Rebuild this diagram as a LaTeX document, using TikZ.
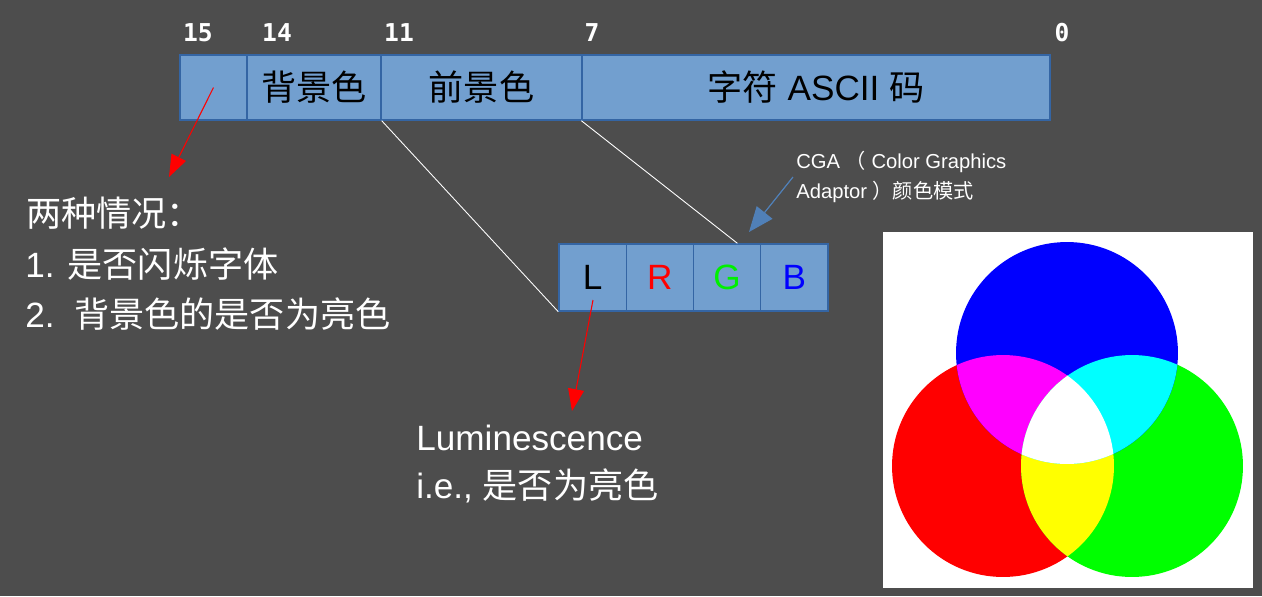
\documentclass[tikz,border=0pt]{standalone}
\usepackage{fontspec}
\setmainfont{Liberation Sans}
\newfontfamily\cjk{Noto Sans CJK SC}
\newfontfamily\monofnt{DejaVu Sans Mono}
\usetikzlibrary{arrows.meta,calc}
\definecolor{bgc}{HTML}{4D4D4D}
\definecolor{cellfill}{HTML}{729FCF}
\definecolor{cellline}{HTML}{3465A4}
\definecolor{arrblue}{HTML}{5080B8}
\definecolor{lgreen}{HTML}{00F000}
\definecolor{pred}{HTML}{FF0000}
\definecolor{pgreen}{HTML}{00FF00}
\definecolor{pblue}{HTML}{0000FF}
\definecolor{pmagenta}{HTML}{FF00FF}
\definecolor{pcyan}{HTML}{00FFFF}
\definecolor{pyellow}{HTML}{FFFF00}
\tikzset{
  cell/.style={draw=cellline, fill=cellfill, line width=0.8pt, inner sep=0pt,
    minimum height=#1, font=\fontsize{20}{24}\selectfont, text=black},
  bitnum/.style={text=white, font=\monofnt\bfseries\fontsize{14}{16}\selectfont, inner sep=0pt},
  bigtxt/.style={text=white, font=\fontsize{20}{24}\selectfont, inner sep=0pt, anchor=base west},
  smalltxt/.style={text=white, font=\fontsize{11.5}{14}\selectfont, inner sep=0pt, anchor=base west},
  redarrow/.style={draw=pred, line width=0.6pt, -{Triangle[length=0.44cm,width=0.32cm]}},
  bluearrow/.style={draw=arrblue, line width=0.7pt, -{Triangle[length=0.5cm,width=0.4cm]}},
  thinwhite/.style={draw=white, line width=0.5pt}
}
\begin{document}
\begin{tikzpicture}[x=0.02cm,y=-0.02cm]
\useasboundingbox (0,0) rectangle (1262,596);
\fill[bgc] (0,0) rectangle (1262,596);

% bit numbers
\node[bitnum] (n15) at (198,33) {15};
\node[bitnum] (n14) at (277,33) {14};
\node[bitnum] (n11) at (399,33) {11};
\node[bitnum] (n7) at (592,33) {7};
\node[bitnum] (n0) at (1062,33) {0};

% top bar
\node[cell=1.3cm, minimum width=1.34cm] (c15) at (213.5,87.5) {};
\node[cell=1.3cm, minimum width=2.68cm] (c14) at (314,87.5) {\cjk 背景色};
\node[cell=1.3cm, minimum width=4.02cm] (c11) at (481.5,87.5) {\cjk 前景色};
\node[cell=1.3cm, minimum width=9.36cm] (c7) at (816,87.5) {{\cjk 字符} ASCII {\cjk 码}};

% LRGB
\node[cell=1.34cm, minimum width=1.345cm] (L) at (592.6,277.5) {L};
\node[cell=1.34cm, minimum width=1.345cm, text=pred] (R) at (659.9,277.5) {R};
\node[cell=1.34cm, minimum width=1.345cm, text=lgreen] (G) at (727.1,277.5) {G};
\node[cell=1.34cm, minimum width=1.345cm, text=pblue] (B) at (794.4,277.5) {B};

% white connector lines
\draw[thinwhite] (c14.south east) -- (L.south west);
\draw[thinwhite] (c7.south west) -- ($(G.north west)!0.65!(G.north east)$);

% left text
\node[bigtxt] (case0) at (26,226) {{\cjk 两种情况：}};
\node[bigtxt] (case1) at (25,277) {1. {\cjk 是否闪烁字体}};
\node[bigtxt] (case2) at (25,327) {2.\ \ {\cjk 背景色的是否为亮色}};

% luminescence text
\node[bigtxt] (lum1) at (416,450) {Luminescence};
\node[bigtxt] (lum2) at (416,498) {i.e., {\cjk 是否为亮色}};

% CGA text
\node[smalltxt] (cga1) at (796,168) {CGA {\cjk （} Color Graphics};
\node[smalltxt] (cga2) at (796,198) {Adaptor {\cjk ）颜色模式}};

% arrows
\coordinate (tip1) at (169,177);
\coordinate (from2) at (593,300);
\coordinate (tip2) at (572,411);
\coordinate (from3) at (793,177);
\coordinate (tip3) at (749,232);
\draw[redarrow] (c15.center) -- (tip1);
\draw[redarrow] (from2) -- (tip2);
\draw[bluearrow] (from3) -- (tip3);

% RGB image
\fill[white] (883,232) rectangle (1253,588);
\coordinate (cb) at (1067,353);
\coordinate (cr) at (1003,466);
\coordinate (cg) at (1132,466);
\fill[pred] (cr) circle[radius=2.22cm];
\fill[pgreen] (cg) circle[radius=2.22cm];
\fill[pblue] (cb) circle[radius=2.22cm];
\begin{scope}
  \clip (cr) circle[radius=2.22cm];
  \fill[pmagenta] (cb) circle[radius=2.22cm];
  \fill[pyellow] (cg) circle[radius=2.22cm];
\end{scope}
\begin{scope}
  \clip (cg) circle[radius=2.22cm];
  \fill[pcyan] (cb) circle[radius=2.22cm];
\end{scope}
\begin{scope}
  \clip (cr) circle[radius=2.22cm];
  \clip (cg) circle[radius=2.22cm];
  \fill[white] (cb) circle[radius=2.22cm];
\end{scope}
\end{tikzpicture}
\end{document}
